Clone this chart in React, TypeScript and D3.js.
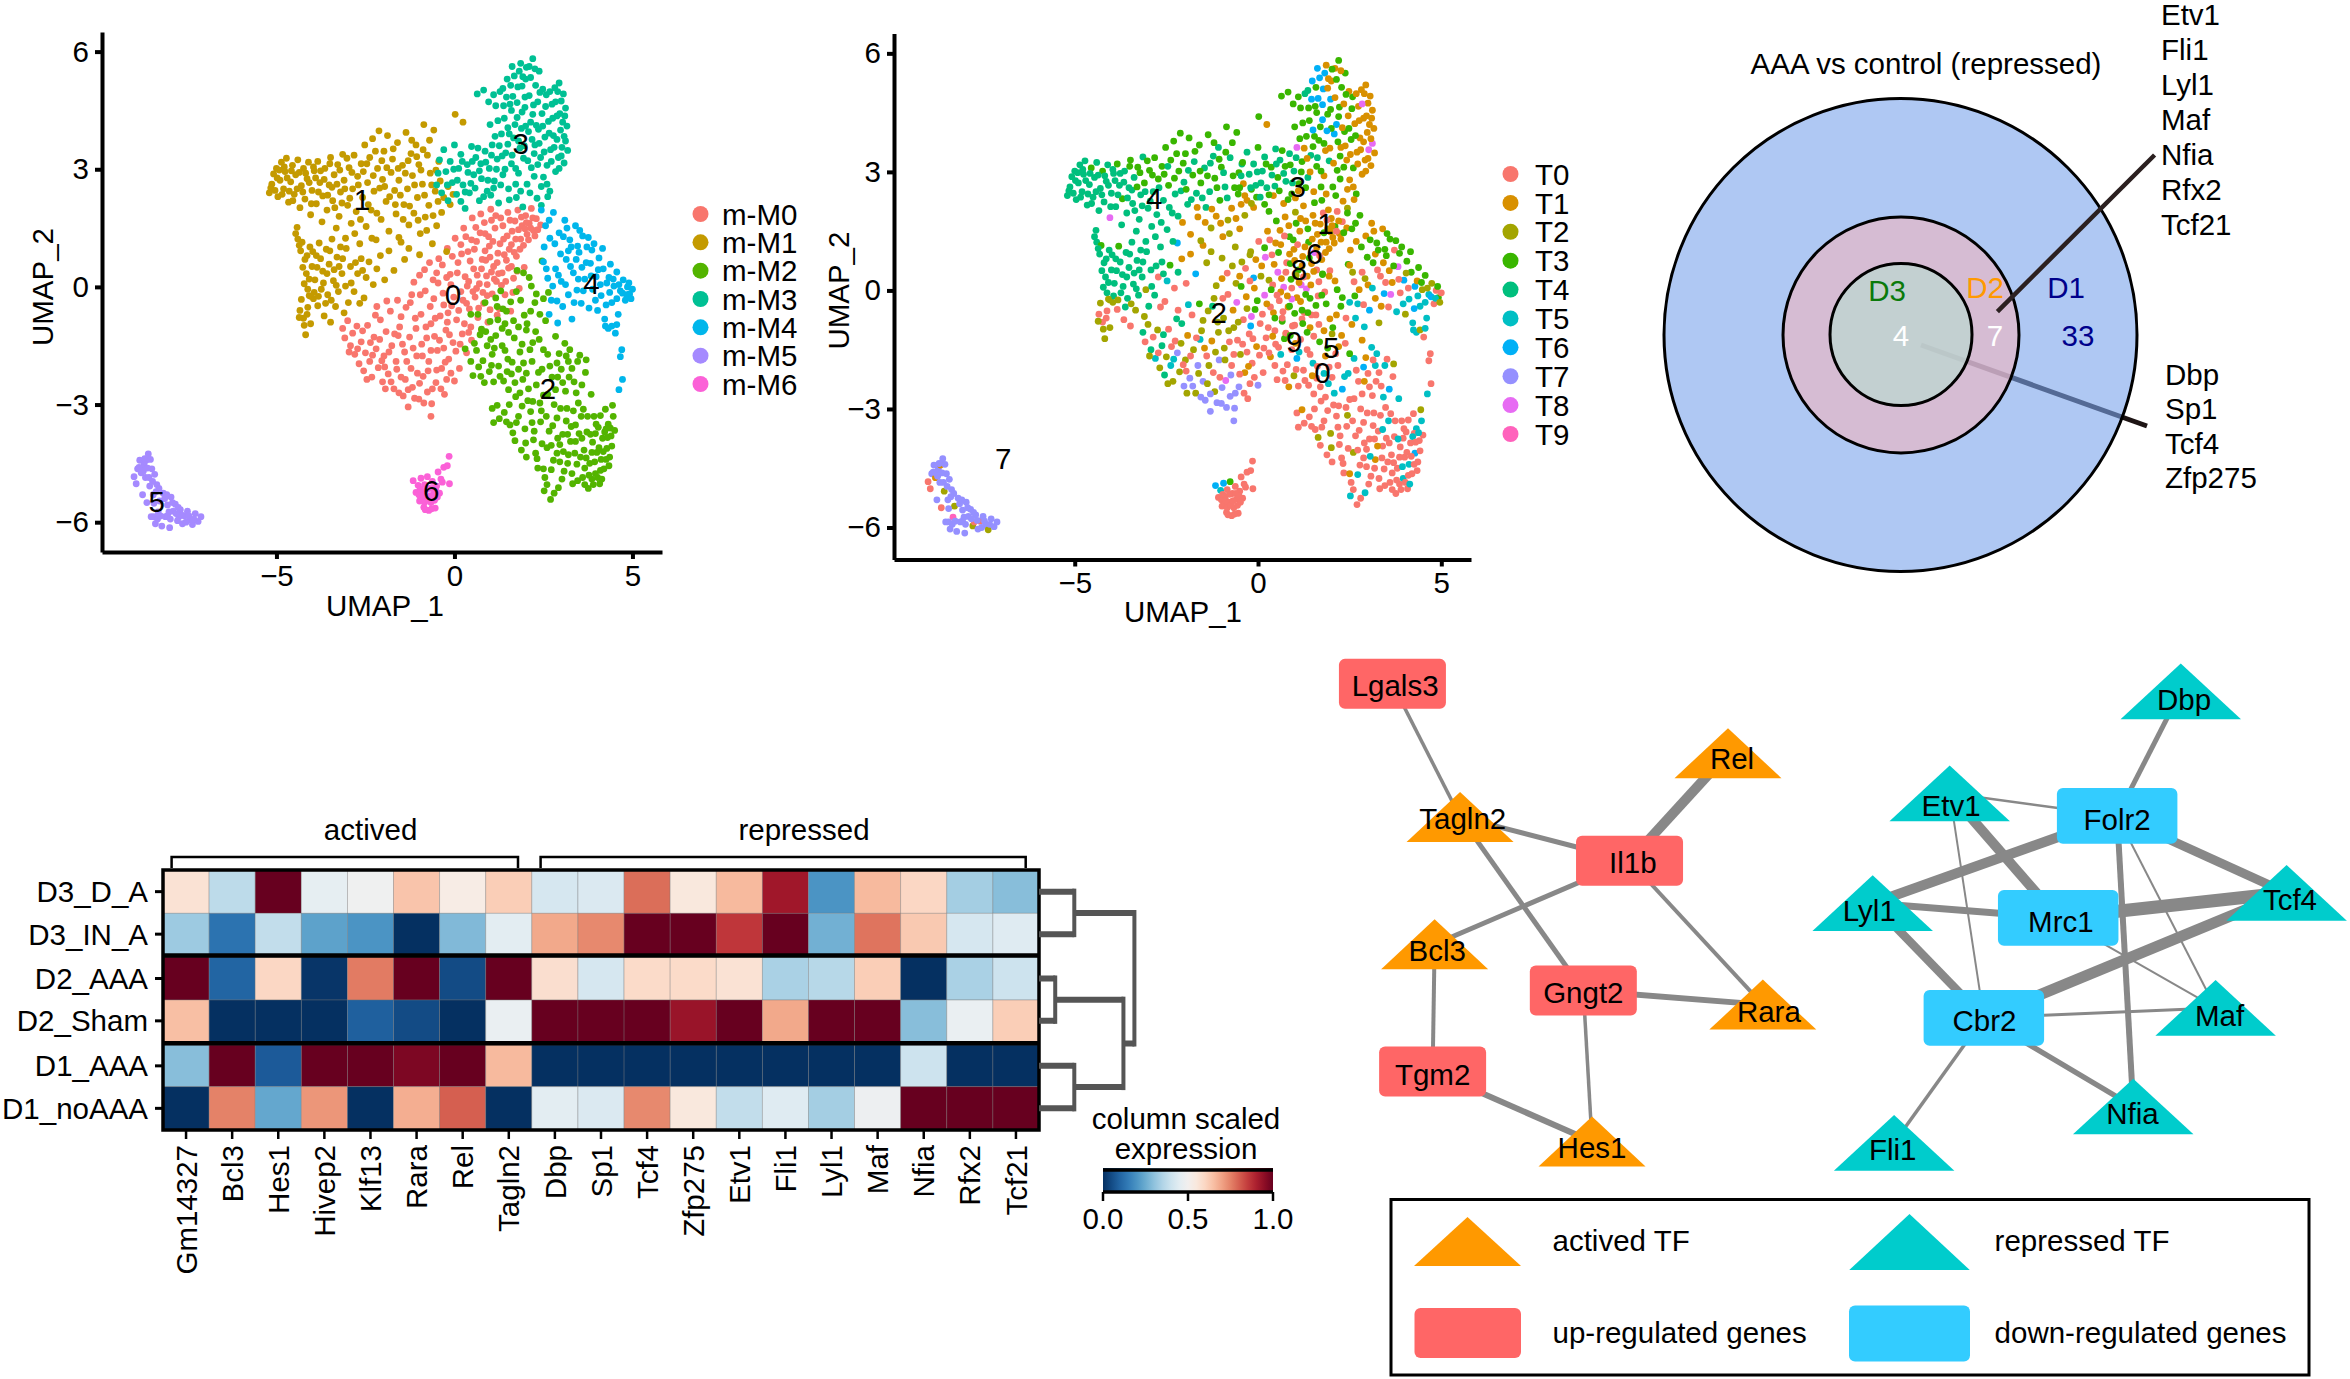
import React, { useRef, useEffect } from 'react';
import * as d3 from 'd3';

// umap points per m-cluster: [UMAP_1, UMAP_2, T cluster]
const m0Points = [
[-3.14,-1.06,4],[-3.08,-1.3,0],[-3,-0.86,2],[-2.92,-1.5,4],[-2.86,-1.18,0],[-2.8,-1.72,5],[-2.74,-1,2],[-2.68,-1.96,2],[-2.62,-1.4,4],[-2.55,-2.14,4],[-2.5,-1.68,2],[-2.44,-0.98,0],[-2.38,-1.9,5],[-2.32,-2.3,2],[-2.26,-1.28,0],[-2.2,-1.58,7],[-2.14,-2.06,2],[-2.08,-0.84,4],[-2.02,-2.42,7],[-1.98,-1.76,2],[-1.92,-1.14,1],[-1.86,-2.22,7],[-1.8,-0.62,0],[-1.76,-1.5,2],[-1.7,-2.6,2],[-1.64,-1.9,7],[-1.6,-0.34,3],[-1.54,-1.02,2],[-1.5,-2.3,7],[-1.44,-2.78,7],[-1.4,-1.66,0],[-1.36,-0.52,2],[-1.3,-3.06,7],[-1.26,-1.28,1],[-1.22,-2.08,0],[-1.18,-2.56,2],[-1.14,0.12,2],[-1.1,-0.8,2],[-1.06,-1.76,7],[-1,-2.86,7],[-0.96,-0.2,0],[-0.92,-1.46,2],[-0.88,-2.28,8],[-0.84,0.44,0],[-0.8,-1.02,2],[-0.76,-2.68,7],[-0.72,-1.9,0],[-0.68,-0.5,1],[-0.64,-2.98,7],[-0.6,0.18,2],[-0.56,-1.26,0],[-0.52,-2.44,7],[-0.48,-1.62,2],[-0.44,0.72,2],[-0.4,-0.74,0],[-0.36,-2.08,1],[-0.32,-0.16,1],[-0.28,-2.74,0],[-0.24,-1.1,0],[-0.2,0.98,2],[-0.16,-1.84,0],[-0.12,0.32,6],[-0.08,-0.48,3],[-0.04,-1.42,1],[0,-2.4,7],[0.02,1.24,0],[0.06,-0.84,0],[0.1,0.62,1],[0.14,-2.08,0],[0.18,-0.12,8],[0.22,-1.2,0],[0.26,1.5,1],[0.3,0.26,2],[0.34,-1.68,1],[0.38,0.9,0],[0.42,-0.56,1],[0.46,-1.02,0],[0.5,1.76,3],[0.54,0.46,8],[0.58,-0.26,0],[0.62,1.16,1],[0.66,-0.78,3],[0.7,0.08,8],[0.74,1.86,1],[0.78,0.7,0],[0.82,-0.42,1],[0.86,1.36,3],[0.9,0.28,3],[0.94,-0.9,0],[0.98,1.04,1],[1.02,1.98,2],[1.06,-0.18,1],[1.1,0.52,3],[1.14,1.5,1],[1.18,0.14,8],[1.22,0.86,1],[1.26,-0.56,0],[1.3,1.76,1],[1.34,0.36,1],[1.38,1.22,3],[1.42,-0.2,3],[1.46,0.68,1],[1.5,1.9,1],[1.54,0.96,8],[1.58,-0.62,0],[1.62,1.42,1],[1.66,0.22,0],[1.7,1.68,1],[1.74,0.78,1],[1.78,1.96,0],[1.82,-0.04,0],[1.86,1.22,1],[1.9,1.56,1],[1.96,0.5,0],[2,1.82,1],[2.04,1.34,1],[2.1,1.62,3],[2.16,2,0],[2.22,1.44,1],[2.3,1.74,0],[2.42,1.58,1],[-0.66,-3.3,7],[-0.98,-2.46,7],[-1.38,-2.36,2],[-0.3,-1.56,0],[0.48,-1.36,0],[0.62,-0.04,1],[-1.58,-1.24,5],[-2.36,-1.42,0],[-1.96,-2.04,0],[-0.22,-2.36,0],[0.76,-1.1,1],[0.4,0.14,0],[-0.1,0.06,1],[0.92,-0.22,8],[1.2,-0.72,0],[0.18,1.08,3],[-0.66,-0.94,2],[-1.24,-0.4,4],[-1.9,-0.36,5],[-0.5,0.36,1],[-2.18,-0.5,0],[-0.2,-0.9,6],[0.34,-0.42,0],[0.86,0.92,1],[1.6,0.52,0],[1.04,0.38,2],
[-2.96,-1.66,2],[-2.72,-1.58,0],[-2.58,-1.12,4],[-2.46,-2.36,2],[-2.3,-1.74,5],[-2.22,-0.72,4],[-2.1,-1.34,2],[-2.04,-1.88,0],[-1.94,-2.6,2],[-1.84,-1.66,0],[-1.78,-2.42,7],[-1.68,-1.2,0],[-1.62,-2.1,2],[-1.56,-2.7,7],[-1.5,-0.76,2],[-1.46,-1.46,1],[-1.34,-1.9,2],[-1.3,-2.62,7],[-1.2,-0.2,2],[-1.16,-1.56,2],[-1.12,-2.84,7],[-1.08,-1.06,2],[-1.04,-2.2,0],[-0.98,0.3,1],[-0.94,-0.7,2],[-0.9,-1.76,2],[-0.86,-2.96,7],[-0.82,-0.1,0],[-0.78,-1.3,0],[-0.74,-2.14,7],[-0.7,0.62,2],[-0.66,-1.62,0],[-0.62,-2.6,7],[-0.58,-0.3,8],[-0.54,-0.8,2],[-0.5,-2.12,0],[-0.46,0.1,3],[-0.42,-1.36,0],[-0.38,-2.6,0],[-0.34,0.56,0],[-0.3,-0.46,2],[-0.26,-1.92,1],[-0.22,0.24,0],[-0.18,-0.66,8],[-0.14,-1.22,0],[-0.1,-2.2,0],[-0.06,0.78,1],[-0.02,-0.26,3],[0.04,-1.64,0],[0.08,0.36,2],[0.12,-0.6,0],[0.16,-1.46,0],[0.2,0.84,8],[0.24,-0.34,1],[0.28,-0.94,0],[0.32,1.28,0],[0.36,0.02,3],[0.4,-1.16,1],[0.44,0.66,1],[0.48,1.2,1],[0.52,-0.12,0],[0.56,0.96,3],[0.6,1.52,1],[0.64,0.3,1],[0.68,-0.54,0],[0.72,1.38,0],[0.76,0.46,0],[0.8,-0.14,1],[0.84,1.64,1],[0.88,0.68,3],[0.92,0.06,0],[0.96,1.28,3],[1,-0.58,3],[1,0.76,1],[1.04,1.7,3],[1.08,1.16,0],[1.12,0.2,1],[1.16,1.82,1],[1.2,0.62,1],[1.24,0.34,0],[1.28,1.1,1],[1.32,0.04,8],[1.36,1.56,3],[1.4,0.82,3],[1.44,0.14,1],[1.48,1.3,1],[1.52,0.48,1],[1.56,1.7,1],[1.6,1.08,1],[1.64,-0.14,0],[1.68,0.88,0],[1.72,1.22,1],[1.76,0.4,3],[1.8,1.46,3],[1.84,0.96,1],[1.88,1.78,0],[1.94,1.06,1],[1.98,1.48,1],[2.02,1.64,1],[2.08,1.2,1],[2.14,1.5,0],[2.2,1.76,1],[2.26,1.3,1],[2.34,1.46,3],
];
const m1Points = [
[-5.2,2.4,4],[-5.13,2.62,4],[-5.08,2.88,4],[-5,3.02,4],[-4.96,2.3,4],[-4.9,2.72,4],[-4.86,3.18,4],[-4.8,2.5,4],[-4.76,2.94,4],[-4.72,3.28,4],[-4.66,2.16,4],[-4.6,2.68,4],[-4.55,3.1,3],[-4.5,2.36,4],[-4.46,2.86,4],[-4.4,3.24,4],[-4.34,2.02,4],[-4.3,2.58,4],[-4.24,3.02,3],[-4.2,2.24,4],[-4.14,2.76,4],[-4.1,3.18,4],[-4.04,1.84,8],[-4,2.46,4],[-3.94,2.96,4],[-3.88,2.12,4],[-3.84,3.2,3],[-3.78,2.66,4],[-3.72,1.66,4],[-3.7,2.32,3],[-3.64,3.02,4],[-3.58,1.96,4],[-3.52,2.6,4],[-3.48,3.3,3],[-3.42,2.2,4],[-3.38,2.86,4],[-3.32,1.5,4],[-3.28,3.12,3],[-3.24,1.8,4],[-3.2,2.42,4],[-3.14,3.38,4],[-3.1,2.72,3],[-3.06,1.24,4],[-3,2.08,4],[-2.96,3.04,3],[-2.9,1.62,4],[-2.86,2.5,4],[-2.82,3.36,3],[-2.76,1.92,4],[-2.72,2.82,3],[-2.66,1.1,4],[-2.62,3.14,3],[-2.58,2.28,4],[-2.52,3.62,3],[-2.48,1.54,4],[-2.44,2.66,3],[-2.38,3.3,3],[-2.34,1.96,4],[-2.3,3.78,3],[-2.26,2.44,4],[-2.2,1.2,6],[-2.16,3.02,3],[-2.12,3.98,3],[-2.06,1.72,1],[-2.02,2.74,4],[-1.98,3.46,3],[-1.92,2.18,4],[-1.88,3.86,3],[-1.84,1.42,1],[-1.78,2.92,3],[-1.74,3.26,4],[-1.68,2.46,4],[-1.64,1.86,1],[-1.6,3.68,3],[-1.56,2.72,3],[-1.5,1.14,1],[-1.46,3.1,4],[-1.42,2.1,4],[-1.36,3.94,3],[-1.32,2.5,4],[-1.28,1.58,2],[-1.22,3.4,4],[-1.18,2.84,3],[-1.14,1.88,1],[-1.08,3.62,4],[-1.04,2.28,3],[-1,3.12,3],[-0.96,1.36,1],[-0.9,2.62,4],[-0.86,4.14,3],[-0.82,1.78,2],[-0.76,3.36,4],[-0.72,2.08,1],[-0.68,2.9,3],[-0.62,1.1,2],[-0.58,4,3],[-0.54,2.44,3],[-0.5,1.56,1],[-0.44,3.2,4],[-0.4,2.7,1],[-0.36,1.9,2],[-0.3,2.28,1],[-0.22,0.9,2],[-0.18,2.56,3],[-0.12,2.1,1],[-0.04,2.36,3],[0.02,4.4,3],[0.24,4.2,1],[-4.42,1.52,4],[-4.4,1.22,4],[-4.32,0.92,4],[-4.28,1.14,3],[-4.2,0.7,4],[-4.16,0.34,4],[-4.12,-0.06,4],[-4.06,1.02,4],[-4,0.52,4],[-3.96,-0.3,2],[-3.92,0.18,4],[-3.88,0.8,4],[-3.84,-0.48,0],[-3.8,1.12,3],[-3.74,-0.06,4],[-3.7,0.4,4],[-3.66,-0.74,0],[-3.6,0.96,4],[-3.56,-0.2,4],[-3.52,0.58,4],[-3.48,-0.9,0],[-3.44,1.22,4],[-3.4,0.16,4],[-3.34,-0.5,2],[-3.3,0.76,4],[-3.26,-0.12,4],[-3.2,1.02,4],[-3.16,0.34,4],[-3.1,-0.66,2],[-3.06,0.02,2],[-4.34,-0.6,0],[-4.3,-0.32,2],[-4.24,-0.8,0],[-4.18,-1.22,2],[-4.12,-0.52,0],[-4.04,-0.94,2],[-2.98,-0.4,4],[-2.92,0.52,4],[-2.82,-0.12,4],[-2.72,0.34,0],[-2.62,0.72,4],[-2.54,-0.28,0],[-2.48,0.24,5],[-2.4,0.64,3],[-2.28,0.06,0],[-2.18,0.46,4],[-2.08,0.8,1],[-1.96,0.18,0],[-1.84,0.92,1],[-1.7,0.42,6],[-1.56,1.26,2],[-1.4,0.7,2],[-1.28,0.98,2],[-0.98,0.82,2],
[-5.16,2.52,4],[-5.04,2.46,4],[-4.98,2.78,4],[-4.92,2.98,4],[-4.84,2.36,4],[-4.78,3.06,4],[-4.7,2.78,4],[-4.64,2.44,4],[-4.58,2.96,4],[-4.54,2.2,4],[-4.42,2.5,4],[-4.36,2.92,4],[-4.26,2.42,4],[-4.18,2.9,4],[-4.08,2.66,4],[-4.02,2.12,4],[-3.96,3.06,4],[-3.9,2.78,4],[-3.82,2.42,4],[-3.76,2.96,4],[-3.66,2.74,4],[-3.56,2.34,4],[-3.5,3.14,3],[-3.44,2.54,4],[-3.36,2.02,4],[-3.3,2.62,3],[-3.22,2.98,3],[-3.16,2.14,4],[-3.08,2.5,4],[-3.02,3.28,3],[-2.94,2.26,4],[-2.88,2.92,3],[-2.8,1.36,4],[-2.7,2.6,4],[-2.64,1.72,4],[-2.56,2.94,3],[-2.46,3.14,4],[-2.42,2.1,4],[-2.32,1.24,4],[-2.28,2.84,3],[-2.22,3.46,3],[-2.18,1.88,4],[-2.1,2.52,4],[-2.04,3.22,3],[-1.96,2.56,3],[-1.9,3.04,4],[-1.82,2.3,4],[-1.72,3.52,3],[-1.66,2.1,1],[-1.58,3.02,3],[-1.52,2.34,4],[-1.44,1.72,1],[-1.38,2.9,3],[-1.3,3.22,4],[-1.26,2.06,1],[-1.2,3.74,3],[-1.12,2.6,3],[-1.06,3.32,3],[-1.02,1.7,1],[-0.94,2.98,4],[-0.88,3.5,3],[-0.84,2.34,4],[-0.78,1.44,2],[-0.7,3.74,3],[-0.64,2.6,3],[-0.6,1.82,1],[-0.52,2.98,3],[-0.46,2.18,1],[-4.46,1.36,4],[-4.36,1.06,4],[-4.26,0.5,4],[-4.22,0.08,4],[-4.14,0.8,4],[-4.08,0.2,4],[-4.04,-0.24,2],[-3.98,0.9,4],[-3.94,-0.14,4],[-3.86,0.5,4],[-3.82,-0.24,2],[-3.76,0.72,4],[-3.68,0.1,4],[-3.62,-0.42,4],[-3.58,0.34,4],[-3.5,0.92,4],[-3.46,-0.34,2],[-3.38,0.44,4],[-3.32,0.04,4],[-3.24,0.52,4],[-3.14,0.72,4],[-3.04,0.98,4],[-2.9,0.1,4],[-2.78,0.62,4],[-2.66,-0.42,0],[-2.58,0.42,4],[-4.36,-0.78,2],[-4.22,-0.98,2],[-4.14,-0.7,0],[-4.08,-0.22,2],
];
const m2Points = [
[0.46,-1.9,0],[0.52,-2.26,0],[0.62,-1.62,5],[0.68,-2.04,0],[0.72,-1.22,3],[0.8,-1.88,0],[0.84,-2.44,1],[0.92,-1.5,0],[0.98,-2.16,2],[1,-0.88,0],[1.06,-1.72,6],[1.1,-2.42,0],[1.16,-1.24,0],[1.2,-0.5,3],[1.24,-2.02,0],[1.3,-0.1,3],[1.34,-1.5,0],[1.38,-2.4,0],[1.42,-0.94,1],[1.46,-3.44,0],[1.5,-1.84,5],[1.54,-3,0],[1.58,-0.38,3],[1.6,-2.22,0],[1.64,-3.72,2],[1.68,-1.3,3],[1.72,-2.8,0],[1.76,0.42,3],[1.8,-3.3,0],[1.84,-1.66,1],[1.88,-4.16,0],[1.92,-2.36,5],[1.96,-0.72,1],[1.98,-3.62,2],[2.02,-1.1,2],[2.06,-2.9,0],[2.1,0.24,1],[2.14,-3.18,0],[2.18,-1.9,0],[2.22,-3.9,0],[2.26,-0.4,3],[2.3,-2.5,6],[2.34,-4.62,0],[2.38,-1.34,0],[2.42,-3.44,0],[2.46,0.66,3],[2.5,-2.76,0],[2.52,-5.2,5],[2.56,-0.86,1],[2.6,-4.1,2],[2.62,-1.72,5],[2.66,-3.68,0],[2.7,-5.42,0],[2.74,-2.3,0],[2.78,-4.42,0],[2.8,-3,0],[2.84,-1.26,1],[2.88,-3.34,0],[2.92,-5.12,5],[2.96,-4.02,0],[3,-2.1,0],[3.04,-3.76,0],[3.08,-4.7,0],[3.12,-2.66,0],[3.16,-3.1,0],[3.2,-4.28,1],[3.24,-1.6,5],[3.28,-3.56,0],[3.32,-5.02,0],[3.36,-2.42,0],[3.4,-3.94,0],[3.44,-4.52,0],[3.48,-2.96,0],[3.52,-1.74,0],[3.56,-3.3,5],[3.6,-4.86,0],[3.64,-4.16,0],[3.68,-2.18,0],[3.72,-3.7,0],[3.76,-5.14,0],[3.8,-4.5,0],[3.84,-2.74,5],[3.88,-3.96,0],[3.92,-3.3,0],[3.96,-4.76,5],[4,-4.22,0],[4.04,-3.58,0],[4.08,-5.02,0],[4.12,-4.4,5],[4.16,-3.86,0],[4.2,-4.64,0],[4.24,-3.12,0],[4.28,-4.12,6],[4.32,-3.5,5],[4.36,-4.34,0],[4.4,-3.8,0],[4.44,-3.02,2],[4.46,-3.3,5],[4.5,-3.66,0],[0.3,-1.58,0],[0.46,-0.7,3],[0.66,-0.7,0],[0.86,-0.4,3],[1.16,-0.28,1],[1.46,-0.62,0],[1.74,-0.12,3],[1.94,0.36,1],[2.14,-0.62,1],[2.3,-0.18,3],[2.5,-0.3,5],[1.06,-3.1,0],[1.26,-3.36,0],[1.52,-2.62,0],[1.8,-2.1,5],[2.02,-2.2,0],[2.2,-1.42,1],[2.46,-2.1,5],[2.62,-2.74,0],[3.04,-2.44,0],[3.2,-1.9,5],[3.7,-1.86,2],[1.7,-3.92,0],[2.02,-4.34,0],[2.28,-4.24,0],[2.5,-4.64,1],[2.72,-4.04,0],[2.96,-4.46,0],[3.18,-3.76,0],[3.4,-3.52,5],[3.58,-3.86,0],[3.66,-4.62,0],[3.86,-4.9,0],[4.1,-4.68,0],[4.26,-3.62,0],[3.96,-3.74,0],[2.9,-2.3,1],[2.4,-2.96,0],[2.18,-3.46,0],[1.34,-1.06,3],[1.02,-1.34,1],[0.76,-1.08,0],[1.62,-1.92,0],[1.9,-1.46,3],
[0.56,-1.44,0],[0.74,-2.28,0],[0.88,-1.14,3],[1.04,-2.0,0],[1.12,-1.56,5],[1.22,-0.84,3],[1.28,-2.28,0],[1.36,-0.56,3],[1.42,-1.62,0],[1.48,-2.16,1],[1.52,-1.16,0],[1.56,-3.52,0],[1.66,-0.86,0],[1.7,-2.44,0],[1.74,-3.46,0],[1.8,-1.02,1],[1.84,-2.7,0],[1.86,-0.34,3],[1.9,-3.04,0],[1.94,-1.94,0],[2,-3.98,2],[2.04,-0.94,3],[2.08,-2.6,5],[2.12,-1.6,0],[2.16,0.02,3],[2.2,-2.92,0],[2.24,-3.68,0],[2.28,-1.14,1],[2.32,-4.38,0],[2.36,-2.18,5],[2.4,-0.7,0],[2.44,-3.16,2],[2.46,-4.0,0],[2.5,-1.6,3],[2.54,-4.86,0],[2.58,-3.3,0],[2.6,-5.04,0],[2.64,-0.14,3],[2.68,-2.02,0],[2.72,-4.66,5],[2.76,-3.54,0],[2.8,-5.26,0],[2.84,-2.62,0],[2.88,-4.24,0],[2.9,-3.86,0],[2.94,-1.7,1],[2.98,-3.1,0],[3.02,-4.9,0],[3.06,-4.2,5],[3.1,-1.44,5],[3.14,-3.42,0],[3.18,-4.5,0],[3.22,-2.3,0],[3.26,-3.94,1],[3.3,-4.76,0],[3.34,-3.16,0],[3.38,-4.24,0],[3.42,-2.7,5],[3.46,-4.94,0],[3.5,-3.74,0],[3.54,-4.34,0],[3.58,-2.5,6],[3.62,-3.12,0],[3.66,-5.04,0],[3.7,-4.36,0],[3.74,-3.3,0],[3.78,-4.8,0],[3.82,-3.76,5],[3.86,-4.22,0],[3.9,-5.04,0],[3.94,-4.46,5],[3.98,-3.5,0],[4.02,-4.86,0],[4.06,-4.1,0],[4.1,-3.28,0],[4.14,-4.9,5],[4.18,-4.2,0],[4.22,-3.7,5],[4.26,-4.4,0],[4.3,-3.84,0],[4.34,-4.56,0],[4.38,-3.6,5],[4.42,-4.06,0],[3.3,-2.08,0],[3.46,-1.9,5],[3.14,-1.76,0],[2.88,-1.94,6],[1.1,-3.46,0],[1.2,-3.02,1],[1.4,-3.2,0],
];
const m3Points = [
[-0.5,2.6,3],[-0.42,3.24,3],[-0.36,2.4,1],[-0.3,3.5,4],[-0.24,2.94,4],[-0.18,2.2,2],[-0.12,3.2,4],[-0.06,2.66,4],[0,3.62,3],[0.06,2.36,4],[0.12,3.02,4],[0.18,3.38,4],[0.24,2.6,4],[0.3,2,3],[0.36,3.12,3],[0.42,2.4,1],[0.48,3.58,4],[0.54,2.86,3],[0.6,3.3,4],[0.64,4.92,3],[0.7,2.2,1],[0.76,2.76,4],[0.82,5.02,3],[0.86,3.46,4],[0.92,2.44,3],[0.98,3.02,4],[1,4.14,3],[1.06,3.62,8],[1.12,2.7,3],[1.16,4.62,3],[1.2,3.26,3],[1.24,2.14,1],[1.28,4.98,4],[1.32,3.9,3],[1.36,2.86,4],[1.4,4.3,3],[1.44,3.42,4],[1.48,5.3,6],[1.52,2.5,1],[1.56,4.66,3],[1.6,3.14,3],[1.62,5.62,6],[1.66,3.8,3],[1.7,4.14,3],[1.74,2.28,3],[1.78,5.1,6],[1.8,2.9,1],[1.84,3.54,1],[1.86,5.7,1],[1.9,4.46,3],[1.94,3.28,4],[1.98,4.84,6],[2,5.3,1],[2.04,2.62,3],[2.08,3.96,6],[2.1,5.62,1],[2.14,4.2,6],[2.16,3.04,3],[2.2,5.82,3],[2.22,4.64,3],[2.26,3.62,1],[2.28,5.14,3],[2.32,2.26,1],[2.36,4.02,3],[2.38,5.5,3],[2.42,3.3,1],[2.46,4.42,1],[2.5,2.8,1],[2.54,3.82,3],[2.58,4.9,3],[2.6,3.1,3],[2.64,4.22,1],[2.68,2.44,3],[2.7,3.5,1],[2.74,4.66,1],[2.78,3.86,1],[2.82,5.08,1],[2.84,2.94,1],[2.88,4.36,1],[2.92,3.3,1],[2.94,5.2,1],[2.98,4,1],[3,4.74,1],[3.02,3.56,8],[3.06,4.92,1],[3.08,3.16,1],[3.1,4.36,1],[3.12,3.72,8],[3.16,4.1,1],[3.18,3.48,1],[0.18,2.18,3],[0.46,2.64,4],[0.74,3.14,3],[1.02,2.34,1],[1.26,3.6,1],[1.54,3.9,3],[1.72,2.62,3],[1.92,2.04,1],[2.12,2.4,3],[2.24,3.4,3],[2.44,2.08,2],[2.62,2.3,1],[0.96,4.72,3],[1.1,4.9,3],[1.36,5.06,4],[1.5,4.06,6],[1.6,4.5,3],[1.76,4.7,6],[1.9,5.12,1],[2,4.1,3],[2.34,4.72,1],[2.48,5.04,1],
[-0.46,2.9,4],[-0.2,2.6,4],[-0.02,3.0,4],[0.08,2.72,4],[0.22,3.2,3],[0.3,2.42,3],[0.38,2.92,4],[0.5,3.2,4],[0.58,2.52,3],[0.66,3.54,3],[0.7,2.96,4],[0.82,2.3,3],[0.88,3.18,3],[0.94,2.72,4],[1.04,3.36,4],[1.1,2.52,1],[1.14,3.84,3],[1.18,3.0,3],[1.22,4.24,3],[1.3,2.6,3],[1.34,3.34,1],[1.38,4.62,3],[1.42,3.0,1],[1.46,4.84,6],[1.5,3.64,3],[1.54,2.22,3],[1.58,5.14,3],[1.62,3.36,4],[1.64,4.86,6],[1.68,5.38,6],[1.72,3.02,3],[1.76,4.32,6],[1.8,3.72,3],[1.82,5.5,6],[1.86,2.44,1],[1.88,4.04,6],[1.92,5.36,1],[1.96,3.6,1],[1.98,4.58,3],[2.02,5.6,3],[2.06,3.22,1],[2.1,4.88,1],[2.14,5.34,3],[2.18,3.76,3],[2.2,4.4,3],[2.24,2.82,3],[2.26,5.56,1],[2.3,4.12,1],[2.34,3.12,3],[2.38,3.66,1],[2.4,4.96,3],[2.44,2.56,1],[2.48,4.1,3],[2.52,3.44,1],[2.56,4.6,3],[2.6,2.62,1],[2.66,3.92,3],[2.68,4.98,1],[2.72,3.2,1],[2.76,4.3,1],[2.8,3.56,1],[2.84,4.72,8],[2.88,3.76,1],[2.9,4.98,1],[2.94,3.02,1],[2.96,4.42,1],[3,3.34,1],[3.04,4.2,1],[3.08,3.84,1],[3.12,4.56,1],
];
const m4Points = [
[2.44,1.96,3],[2.5,0.64,1],[2.56,1.56,3],[2.62,0.22,0],[2.68,1.24,1],[2.72,-0.34,5],[2.78,1.9,3],[2.84,0.46,0],[2.9,-0.92,5],[2.94,1.38,1],[3,0.14,1],[3.04,-0.5,6],[3.1,1.7,1],[3.14,0.7,3],[3.2,-0.2,1],[3.24,1.2,3],[3.3,-0.82,2],[3.34,0.36,0],[3.4,1.56,1],[3.44,-0.08,6],[3.5,0.88,3],[3.56,-0.42,0],[3.6,1.3,3],[3.66,0.2,1],[3.72,1.02,0],[3.78,-0.54,5],[3.82,0.6,8],[3.88,-0.06,0],[3.92,1.1,3],[3.98,0.26,6],[4.02,-0.6,2],[4.06,0.74,3],[4.12,-0.22,5],[4.18,0.46,3],[4.22,-0.82,5],[4.28,0.1,6],[4.32,-1.06,5],[4.38,0.58,3],[4.42,-0.4,5],[4.48,0.02,2],[4.52,-1.18,0],[4.56,0.38,3],[4.6,-0.7,5],[4.66,-0.1,5],[4.7,-1.6,0],[4.74,0.18,2],[4.8,-0.34,0],[4.86,0,0],[4.92,-0.18,3],[5,-0.06,0],[4.72,-2.36,0],[4.66,-1.78,0],[4.62,-2.62,5],[3.46,1.04,3],[3.2,0.92,1],[2.98,0.84,3],[3.58,0.5,1],[3.36,-0.4,1],[2.66,-0.7,5],[4.34,0.24,1],
[2.52,1.02,1],[2.58,0.46,2],[2.66,1.7,3],[2.76,0.02,1],[2.82,1.1,3],[2.88,-0.36,0],[2.92,0.3,2],[3.06,1.28,3],[3.12,0.06,5],[3.16,1.5,1],[3.26,0.52,0],[3.28,1.02,3],[3.42,0.7,1],[3.48,0.2,0],[3.52,1.44,3],[3.62,-0.1,8],[3.7,0.62,3],[3.76,1.26,3],[3.84,0.28,0],[3.86,0.94,3],[3.96,-0.34,5],[4.04,0.44,2],[4.1,0.06,0],[4.16,0.98,3],[4.26,-0.46,6],[4.36,-0.14,5],[4.46,0.2,3],[4.56,-0.3,5],[4.62,0.06,2],[4.72,-0.16,6],[4.84,-0.2,5],[4.9,0.1,3],[4.96,-0.3,2],[4.24,-1.0,5],[4.42,-1.0,2],[4.56,-0.96,5],
];
const m5Points = [
[-9,-4.84,0],[-8.94,-5.02,0],[-8.9,-4.64,7],[-8.84,-4.42,7],[-8.8,-4.74,1],[-8.76,-5.3,7],[-8.72,-4.52,7],[-8.68,-4.86,7],[-8.64,-5.5,0],[-8.6,-4.26,7],[-8.56,-5.08,2],[-8.52,-5.86,7],[-8.5,-4.64,7],[-8.46,-5.3,7],[-8.4,-6.04,7],[-8.36,-5.04,7],[-8.32,-5.74,9],[-8.28,-5.46,2],[-8.22,-6.1,7],[-8.18,-5.26,7],[-8.12,-5.86,7],[-8.06,-5.56,7],[-8,-6.14,7],[-7.96,-5.36,7],[-7.9,-5.72,7],[-7.84,-5.54,7],[-7.78,-5.96,2],[-7.7,-5.68,7],[-7.64,-6.04,7],[-7.58,-5.84,0],[-7.5,-5.72,7],[-7.42,-5.94,7],[-7.36,-6.06,2],[-7.28,-5.78,7],[-7.2,-5.98,7],[-7.12,-5.86,7],[-8.78,-4.62,7],[-8.66,-4.42,1],[-8.44,-5.52,7],[-8.58,-4.86,7],[-7.74,-5.86,0],[-8.06,-5.84,7],
[-8.86,-4.6,7],[-8.74,-4.7,7],[-8.7,-4.38,7],[-8.62,-4.62,7],[-8.54,-4.4,7],[-8.48,-4.96,7],[-8.42,-4.78,7],[-8.38,-5.22,7],[-8.44,-5.86,7],[-8.34,-5.92,7],[-8.26,-5.84,7],[-8.3,-5.14,7],[-8.14,-5.4,7],[-8.08,-5.3,7],[-8.02,-5.74,7],[-7.98,-5.92,7],[-7.92,-5.5,7],[-7.82,-5.78,7],[-7.76,-5.62,7],[-7.66,-5.82,7],[-7.54,-6.0,7],[-7.46,-5.84,7],[-7.32,-5.92,7],
];
const m6Points = [
[-1.16,-4.94,6],[-1.08,-5.24,0],[-1.02,-5.06,5],[-0.98,-5.46,0],[-0.94,-4.88,6],[-0.9,-5.22,0],[-0.86,-5.62,0],[-0.84,-5.04,0],[-0.8,-5.36,0],[-0.76,-4.84,3],[-0.72,-5.7,0],[-0.7,-5.14,0],[-0.66,-5.5,0],[-0.62,-4.96,0],[-0.58,-5.28,0],[-0.54,-5.64,0],[-0.5,-5.08,0],[-0.46,-4.72,0],[-0.42,-5.26,0],[-0.38,-4.9,0],[-0.34,-4.98,0],[-0.3,-4.6,0],[-0.2,-4.56,0],[-0.15,-4.32,0],[-0.14,-5.02,0],
[-1,-5.3,0],[-0.96,-5.16,0],[-0.92,-5.42,0],[-0.88,-5.32,0],[-0.84,-5.5,0],[-0.82,-5.68,0],[-0.78,-5.16,0],[-0.74,-5.44,0],[-0.68,-5.32,0],[-0.64,-5.66,0],[-0.6,-5.14,0],[-0.56,-5.44,0],[-0.52,-5.2,0],[-0.48,-5.36,0],
];
const mPointSets = [m0Points, m1Points, m2Points, m3Points, m4Points, m5Points, m6Points];

const mLabels = ['m-M0', 'm-M1', 'm-M2', 'm-M3', 'm-M4', 'm-M5', 'm-M6'];
const mColors = ['#F8766D', '#C49A00', '#53B400', '#00C094', '#00B6EB', '#A58AFF', '#FB61D7'];
const tLabels = ['T0', 'T1', 'T2', 'T3', 'T4', 'T5', 'T6', 'T7', 'T8', 'T9'];
const tColors = ['#F8766D', '#D89000', '#A3A500', '#39B600', '#00BF7D', '#00BFC4', '#00B0F6', '#9590FF', '#E76BF3', '#FF62BC'];

const mCenters: [string, number, number][] = [['0', -0.04, -0.19], ['1', -2.6, 2.23], ['2', 2.63, -2.59], ['3', 1.86, 3.67], ['4', 3.85, 0.1], ['5', -8.36, -5.47], ['6', -0.65, -5.19]];
const tCenters: [string, number, number][] = [['0', 1.76, -2.07], ['1', 1.84, 1.7], ['2', -1.07, -0.55], ['3', 1.08, 2.63], ['4', -2.83, 2.32], ['5', 2, -1.45], ['6', 1.54, 0.95], ['7', -6.95, -4.25], ['8', 1.12, 0.53], ['9', 0.99, -1.3]];

// heatmap
const tfNames = ['Gm14327', 'Bcl3', 'Hes1', 'Hivep2', 'Klf13', 'Rara', 'Rel', 'Tagln2', 'Dbp', 'Sp1', 'Tcf4', 'Zfp275', 'Etv1', 'Fli1', 'Lyl1', 'Maf', 'Nfia', 'Rfx2', 'Tcf21'];
const sampleNames = ['D3_D_A', 'D3_IN_A', 'D2_AAA', 'D2_Sham', 'D1_AAA', 'D1_noAAA'];
const d3DA = [0.57, 0.37, 1, 0.46, 0.49, 0.64, 0.53, 0.62, 0.42, 0.43, 0.78, 0.55, 0.66, 0.92, 0.2, 0.66, 0.6, 0.33, 0.29];
const d3INA = [0.32, 0.13, 0.38, 0.23, 0.2, 0, 0.28, 0.45, 0.69, 0.74, 1, 1, 0.86, 1, 0.26, 0.77, 0.63, 0.42, 0.44];
const d2AAA = [1, 0.1, 0.6, 0.01, 0.76, 1, 0.05, 1, 0.58, 0.42, 0.59, 0.59, 0.57, 0.34, 0.36, 0.62, 0, 0.34, 0.4];
const d2Sham = [0.65, 0, 0, 0, 0.09, 0.05, 0, 0.47, 1, 1, 1, 0.93, 1, 0.69, 1, 1, 0.29, 0.47, 0.62];
const d1AAA = [0.29, 1, 0.08, 1, 1, 0.97, 1, 0.66, 0, 0, 0, 0, 0, 0, 0, 0, 0.4, 0, 0];
const d1noAAA = [0, 0.75, 0.24, 0.72, 0, 0.68, 0.8, 0, 0.45, 0.43, 0.74, 0.55, 0.38, 0.44, 0.33, 0.48, 1, 1, 1];
const heatRows = [d3DA, d3INA, d2AAA, d2Sham, d1AAA, d1noAAA];

// network, node centres in layout units, label offset, kind
const netNodes: [string, number, number, string, number, number][] = [
  ['Lgals3', 138, 93, 'up', 4, 4], ['Il1b', 492, 468, 'up', 5, 3], ['Gngt2', 423, 743, 'up', 0, 4], ['Tgm2', 198, 915, 'up', 0, 5],
  ['Rel', 639, 240, 'act', 6, 12], ['Tagln2', 239, 375, 'act', 4, 3], ['Bcl3', 201, 645, 'act', 4, 12], ['Rara', 691, 773, 'act', 9, 14], ['Hes1', 436, 1063, 'act', 0, 13],
  ['Folr2', 1220, 373, 'down', 0, 7], ['Mrc1', 1132, 589, 'down', 4, 8], ['Cbr2', 1021, 801, 'down', 1, 6],
  ['Dbp', 1315, 109, 'rep', 5, 16], ['Etv1', 970, 325, 'rep', 2, 25], ['Lyl1', 855, 558, 'rep', -5, 15], ['Tcf4', 1473, 536, 'rep', 5, 14], ['Maf', 1367, 780, 'rep', 6, 15], ['Nfia', 1244, 989, 'rep', -1, 14], ['Fli1', 887, 1066, 'rep', -2, 14],
];
const netEdges: [string, string, number][] = [
  ['Il1b', 'Rel', 10], ['Tagln2', 'Il1b', 5], ['Lgals3', 'Tagln2', 3.5], ['Tagln2', 'Gngt2', 5], ['Bcl3', 'Il1b', 5], ['Il1b', 'Rara', 4], ['Gngt2', 'Rara', 6], ['Bcl3', 'Tgm2', 4], ['Gngt2', 'Hes1', 3.5], ['Tgm2', 'Hes1', 6],
  ['Dbp', 'Folr2', 5], ['Etv1', 'Folr2', 2.5], ['Etv1', 'Mrc1', 10], ['Etv1', 'Cbr2', 2], ['Lyl1', 'Folr2', 10], ['Lyl1', 'Mrc1', 7], ['Lyl1', 'Cbr2', 8.5], ['Folr2', 'Tcf4', 9], ['Folr2', 'Nfia', 6], ['Folr2', 'Maf', 2], ['Mrc1', 'Tcf4', 13], ['Mrc1', 'Maf', 2], ['Cbr2', 'Tcf4', 11], ['Cbr2', 'Maf', 3], ['Cbr2', 'Nfia', 5.5], ['Cbr2', 'Fli1', 3.5],
];

const repressedList1 = ['Etv1', 'Fli1', 'Lyl1', 'Maf', 'Nfia', 'Rfx2', 'Tcf21'];
const repressedList2 = ['Dbp', 'Sp1', 'Tcf4', 'Zfp275'];

const FONT = '"Liberation Sans", Arial, sans-serif';
const FS = 29.5;
const netColors: Record<string, string> = { up: '#FF6666', act: '#FF9900', down: '#33CCFF', rep: '#00CCCC' };

const Axis = ({ scale, side, at }: any) => {
  const ref = useRef<SVGGElement>(null);
  useEffect(() => {
    const axis = side === 'left' ? d3.axisLeft(scale) : d3.axisBottom(scale);
    axis.tickValues(side === 'left' ? [-6, -3, 0, 3, 6] : [-5, 0, 5]).tickSizeInner(7).tickSizeOuter(0).tickPadding(6);
    const g = d3.select(ref.current);
    g.call(axis as any);
    g.selectAll('path,line').attr('stroke', '#000').attr('stroke-width', 4);
    g.selectAll('text').attr('font-size', FS).attr('font-family', FONT).attr('fill', '#000');
  }, []);
  return <g ref={ref} transform={side === 'left' ? `translate(${at},0)` : `translate(0,${at})`} />;
};

const Umap = ({ x, y, bottom, left, colorOf, centers, xTitle, yTitle }: any) => (
  <g>
    {mPointSets.map((pts, m) =>
      pts.map((p, i) => <circle key={m + '-' + i} cx={x(p[0])} cy={y(p[1])} r={3.4} fill={colorOf(m, p[2])} />)
    )}
    {centers.map((c: any) => (
      <text key={c[0]} x={x(c[1])} y={y(c[2])} dy="0.36em" textAnchor="middle" fontSize={FS} fontFamily={FONT}>{c[0]}</text>
    ))}
    <Axis scale={x} side="bottom" at={bottom} />
    <Axis scale={y} side="left" at={left} />
    <text x={xTitle[0]} y={xTitle[1]} dy="0.36em" textAnchor="middle" fontSize={FS} fontFamily={FONT}>UMAP_1</text>
    <text transform={`translate(${yTitle[0]},${yTitle[1]}) rotate(-90)`} dy="0.36em" textAnchor="middle" fontSize={FS} fontFamily={FONT}>UMAP_2</text>
  </g>
);

const Legend = ({ labels, colors, ys, cx, tx }: any) => (
  <g>
    {labels.map((l: string, i: number) => (
      <g key={l}>
        <circle cx={cx} cy={ys(i)} r={8} fill={colors[i]} />
        <text x={tx} y={ys(i)} dy="0.36em" fontSize={FS} fontFamily={FONT}>{l}</text>
      </g>
    ))}
  </g>
);

const Venn = () => (
  <g fontFamily={FONT} fontSize={FS}>
    <text x={1926} y={63} dy="0.36em" textAnchor="middle">AAA vs control (repressed)</text>
    <line x1={1921} y1={345} x2={2147} y2={426} stroke="#1d1414" strokeWidth={5} />
    <circle cx={1900.5} cy={335} r={236.5} fill="rgb(122,163,235)" fillOpacity={0.6} stroke="#000" strokeWidth={3} />
    <circle cx={1901} cy={335} r={118} fill="rgb(231,183,196)" fillOpacity={0.7} stroke="#000" strokeWidth={3} />
    <circle cx={1901} cy={334.5} r={71} fill="rgb(187,217,208)" fillOpacity={0.7} stroke="#000" strokeWidth={3} />
    <line x1={1997.4} y1={311.6} x2={2154.6} y2={155} stroke="#2b2020" strokeWidth={4.5} />
    <text x={1887} y={290} dy="0.36em" textAnchor="middle" fill="#0a7a0a">D3</text>
    <text x={1985} y={287} dy="0.36em" textAnchor="middle" fill="#FF9900">D2</text>
    <text x={2066} y={287} dy="0.36em" textAnchor="middle" fill="#00008B">D1</text>
    <text x={1901} y={335} dy="0.36em" textAnchor="middle" fill="#fff">4</text>
    <text x={1995} y={335} dy="0.36em" textAnchor="middle" fill="#fff">7</text>
    <text x={2078} y={335} dy="0.36em" textAnchor="middle" fill="#00008B">33</text>
    {repressedList1.map((t, i) => <text key={t} x={2161} y={14.6 + i * 34.9} dy="0.36em">{t}</text>)}
    {repressedList2.map((t, i) => <text key={t} x={2165} y={374 + i * 34.5} dy="0.36em">{t}</text>)}
  </g>
);

const Heatmap = () => {
  const x = d3.scaleBand<string>().domain(tfNames).range([163, 1039]);
  const rowTops = [870, 913.3, 957, 1000, 1045, 1086.7];
  const rowH = [43.3, 41.7, 43, 41.7, 41.7, 43.3];
  const color = (v: number) => d3.interpolateRdBu(1 - v);
  const rowY = (i: number) => rowTops[i] + rowH[i] / 2;
  const barX = d3.scaleLinear().domain([0, 1]).range([1103, 1273]);
  const stops = d3.range(0, 1.001, 0.05);
  // dendrogram: x = merge height
  const dx = d3.scaleLinear().domain([0, 1]).range([1039, 1134.4]);
  const dLine = '#555';
  const link = (y1: number, y2: number, x1a: number, x1b: number, h: number, key: string) => (
    <g key={key} fill="none" stroke={dLine}>
      <path d={`M${dx(x1a)},${y1}H${dx(h)}M${dx(x1b)},${y2}H${dx(h)}`} strokeWidth={6} />
      <path d={`M${dx(h)},${y1 - 3}V${y2 + 3}`} strokeWidth={4} />
    </g>
  );
  const midA = (rowY(0) + rowY(1)) / 2;
  const midB = (rowY(2) + rowY(3)) / 2;
  const midC = (rowY(4) + rowY(5)) / 2;
  const midD = (midB + midC) / 2;
  return (
    <g fontFamily={FONT} fontSize={FS}>
      <text x={370.6} y={829} dy="0.36em" textAnchor="middle">actived</text>
      <text x={804} y={829} dy="0.36em" textAnchor="middle">repressed</text>
      <path d={`M171.6,868V857H518V868`} fill="none" stroke="#000" strokeWidth={2.5} />
      <path d={`M540.6,868V857H1025.7V868`} fill="none" stroke="#000" strokeWidth={2.5} />
      {heatRows.map((row, i) =>
        row.map((v, j) => (
          <rect key={i + '-' + j} x={x(tfNames[j])} y={rowTops[i]} width={x.bandwidth()} height={rowH[i]} fill={color(v)} stroke="#777" strokeOpacity={0.45} strokeWidth={0.8} />
        ))
      )}
      <rect x={163} y={870} width={876} height={260} fill="none" stroke="#000" strokeWidth={3.5} />
      <line x1={163} x2={1039} y1={955.5} y2={955.5} stroke="#000" strokeWidth={4.5} />
      <line x1={163} x2={1039} y1={1043.3} y2={1043.3} stroke="#000" strokeWidth={4.5} />
      {sampleNames.map((s, i) => (
        <g key={s}>
          <line x1={155} x2={163} y1={rowY(i)} y2={rowY(i)} stroke="#000" strokeWidth={3} />
          <text x={148} y={rowY(i)} dy="0.36em" textAnchor="end">{s}</text>
        </g>
      ))}
      {tfNames.map((t) => {
        const cx = (x(t) as number) + x.bandwidth() / 2;
        return (
          <g key={t}>
            <line x1={cx} x2={cx} y1={1130} y2={1139} stroke="#000" strokeWidth={2.5} />
            <text transform={`translate(${cx},1145) rotate(-90)`} dy="0.36em" textAnchor="end">{t}</text>
          </g>
        );
      })}
      {link(rowY(0), rowY(1), 0, 0, 0.37, 'a')}
      {link(rowY(2), rowY(3), 0, 0, 0.17, 'b')}
      {link(rowY(4), rowY(5), 0, 0, 0.37, 'c')}
      {link(midB, midC, 0.17, 0.37, 0.885, 'd')}
      {link(midA, midD, 0.37, 0.885, 1, 'e')}
      <text x={1186} y={1118} dy="0.36em" textAnchor="middle">column scaled</text>
      <text x={1186} y={1148} dy="0.36em" textAnchor="middle">expression</text>
      <defs>
        <linearGradient id="rdbu">
          {stops.map((s) => <stop key={s} offset={s} stopColor={color(s)} />)}
        </linearGradient>
      </defs>
      <rect x={1103} y={1168} width={170} height={25} fill="url(#rdbu)" />
      <line x1={1103} x2={1273} y1={1170} y2={1170} stroke="#000" strokeWidth={3.5} />
      <line x1={1103} x2={1273} y1={1192} y2={1192} stroke="#000" strokeWidth={3.5} />
      {[0, 0.5, 1].map((v) => (
        <g key={v}>
          <line x1={barX(v)} x2={barX(v)} y1={1192} y2={1201} stroke="#000" strokeWidth={2.5} />
          <text x={barX(v)} y={1218} dy="0.36em" textAnchor="middle">{v.toFixed(1)}</text>
        </g>
      ))}
    </g>
  );
};

const triangle = (cx: number, cy: number, w: number, h: number) =>
  (d3.line() as any)([[cx - w / 2, cy + h / 2], [cx, cy - h / 2], [cx + w / 2, cy + h / 2]]) + 'Z';

const Network = () => {
  const nx = d3.scaleLinear().domain([0, 1050 * 1.493]).range([1300, 2350]);
  const ny = d3.scaleLinear().domain([0, 739 * 2.12]).range([640, 1379]);
  const size: Record<string, [number, number]> = { up: [107, 50], act: [107, 50], down: [120.5, 55.7], rep: [120.5, 55.7] };
  const byName = new Map(netNodes.map((n) => [n[0], n]));
  return (
    <g fontFamily={FONT} fontSize={FS}>
      {netEdges.map(([a, b, w]) => {
        const na: any = byName.get(a);
        const nb: any = byName.get(b);
        return <line key={a + b} x1={nx(na[1])} y1={ny(na[2])} x2={nx(nb[1])} y2={ny(nb[2])} stroke="#888" strokeWidth={w} />;
      })}
      {netNodes.map(([name, cx, cy, kind, lx, ly]) => {
        const [w, h] = size[kind];
        const X = nx(cx);
        const Y = ny(cy);
        return (
          <g key={name}>
            {kind === 'up' || kind === 'down' ? (
              <rect x={X - w / 2} y={Y - h / 2} width={w} height={h} rx={6} fill={netColors[kind]} />
            ) : (
              <path d={triangle(X, Y, w, h)} fill={netColors[kind]} />
            )}
            <text x={nx(cx + lx)} y={ny(cy + ly)} dy="0.36em" textAnchor="middle">{name}</text>
          </g>
        );
      })}
      <rect x={1391} y={1199.5} width={918} height={175.5} fill="none" stroke="#000" strokeWidth={3} />
      <path d={triangle(1467.5, 1241.5, 107, 49)} fill={netColors.act} />
      <path d={triangle(1909.5, 1242, 120.5, 56)} fill={netColors.rep} />
      <rect x={1414.5} y={1308} width={106.5} height={50} rx={6} fill={netColors.up} />
      <rect x={1849} y={1305.6} width={121} height={56} rx={6} fill={netColors.down} />
      <text x={1552.5} y={1240.5} dy="0.36em">actived TF</text>
      <text x={1994.6} y={1240.5} dy="0.36em">repressed TF</text>
      <text x={1552.5} y={1332.5} dy="0.36em">up-regulated genes</text>
      <text x={1994.6} y={1332.5} dy="0.36em">down-regulated genes</text>
    </g>
  );
};

export default function App() {
  const xA = d3.scaleLinear().domain([-9.9, 5.83]).range([102, 662]);
  const yA = d3.scaleLinear().domain([-6.76, 6.5]).range([552, 32]);
  const xB = d3.scaleLinear().domain([-9.93, 5.81]).range([894, 1471]);
  const yB = d3.scaleLinear().domain([-6.81, 6.5]).range([559.5, 33.6]);
  const legA = d3.scaleLinear().domain([0, 6]).range([214, 384]);
  const legB = d3.scaleLinear().domain([0, 9]).range([174, 434]);
  return (
    <svg width={2350} height={1379} style={{ position: 'absolute', left: 0, top: 0, background: '#fff' }}>
      <Umap x={xA} y={yA} bottom={552} left={102} colorOf={(m: number) => mColors[m]} centers={mCenters} xTitle={[385, 605]} yTitle={[42, 287]} />
      <Legend labels={mLabels} colors={mColors} ys={legA} cx={700.5} tx={722} />
      <Umap x={xB} y={yB} bottom={559.5} left={894} colorOf={(_m: number, t: number) => tColors[t]} centers={tCenters} xTitle={[1183, 611]} yTitle={[838, 290.6]} />
      <Legend labels={tLabels} colors={tColors} ys={legB} cx={1510.5} tx={1535} />
      <Venn />
      <Heatmap />
      <Network />
    </svg>
  );
}
